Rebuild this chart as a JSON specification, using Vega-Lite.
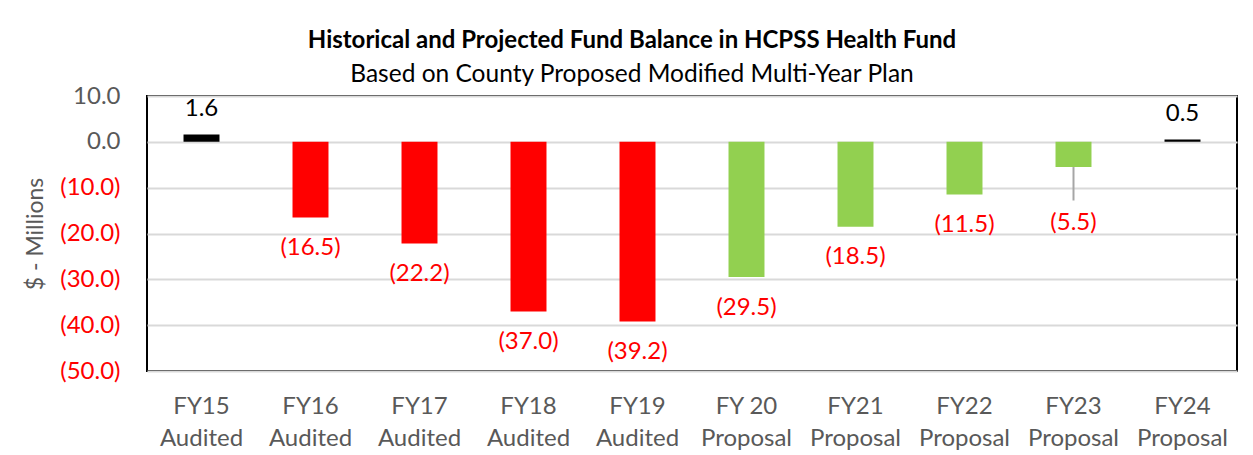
{
  "$schema": "https://vega.github.io/schema/vega-lite/v6.json",
  "autosize": {"type": "none"},
  "width": 1090,
  "height": 275,
  "padding": {"left": 147, "top": 96, "right": 16, "bottom": 84},
  "background": "white",
  "config": {
    "font": "Lato",
    "view": {"stroke": "black", "strokeWidth": 2},
    "axis": {"labelFont": "Lato", "titleFont": "Lato"}
  },
  "title": {
    "text": "Historical and Projected Fund Balance in HCPSS Health Fund",
    "subtitle": "Based on County Proposed Modified Multi-Year Plan",
    "fontSize": 24,
    "fontWeight": "bold",
    "color": "black",
    "subtitleFontSize": 24.5,
    "subtitleColor": "black",
    "subtitlePadding": 10,
    "offset": -2,
    "anchor": "middle",
    "dx": -60
  },
  "data": {
    "values": [
      {"cat": "FY15|Audited", "value": 1.6, "type": "pos"},
      {"cat": "FY16|Audited", "value": -16.5, "type": "hist"},
      {"cat": "FY17|Audited", "value": -22.2, "type": "hist"},
      {"cat": "FY18|Audited", "value": -37.0, "type": "hist"},
      {"cat": "FY19|Audited", "value": -39.2, "type": "hist"},
      {"cat": "FY 20|Proposal", "value": -29.5, "type": "proj"},
      {"cat": "FY21|Proposal", "value": -18.5, "type": "proj"},
      {"cat": "FY22|Proposal", "value": -11.5, "type": "proj"},
      {"cat": "FY23|Proposal", "value": -5.5, "type": "proj"},
      {"cat": "FY24|Proposal", "value": 0.5, "type": "pos"}
    ]
  },
  "encoding": {
    "x": {
      "field": "cat",
      "type": "nominal",
      "sort": null,
      "scale": {"paddingInner": 0.67, "paddingOuter": 0.335},
      "axis": {
        "title": null,
        "labelAngle": 0,
        "labelExpr": "split(datum.value, '|')",
        "labelFontSize": 24,
        "labelColor": "#595959",
        "labelLineHeight": 32,
        "labelPadding": 23,
        "ticks": false,
        "domain": false
      }
    },
    "y": {
      "field": "value",
      "type": "quantitative",
      "scale": {"domain": [-50, 10], "nice": false},
      "axis": {
        "title": "$ - Millions",
        "titleFontSize": 23,
        "titleFontWeight": "normal",
        "titleColor": "#595959",
        "titlePadding": 12,
        "values": [10, 0, -10, -20, -30, -40, -50],
        "labelExpr": "datum.value < 0 ? '(' + format(-datum.value, '.1f') + ')' : format(datum.value, '.1f')",
        "labelColor": {"condition": {"test": "datum.value < 0", "value": "#ff0000"}, "value": "#595959"},
        "labelFontSize": 24,
        "labelPadding": 27,
        "ticks": false,
        "domain": false,
        "gridColor": "#d9d9d9",
        "gridWidth": 2
      }
    }
  },
  "layer": [
    {
      "mark": {"type": "bar"},
      "encoding": {
        "color": {
          "field": "type",
          "type": "nominal",
          "scale": {"domain": ["pos", "hist", "proj"], "range": ["#000000", "#ff0000", "#92d050"]},
          "legend": null
        }
      }
    },
    {
      "transform": [{"filter": "datum.cat == 'FY23|Proposal'"}],
      "mark": {"type": "rule", "color": "#a6a6a6", "strokeWidth": 2},
      "encoding": {"y2": {"datum": -12.8}}
    },
    {
      "transform": [{"filter": "datum.value > 0"}],
      "mark": {"type": "text", "fontSize": 24, "baseline": "alphabetic", "dy": -19, "color": "black"},
      "encoding": {"text": {"field": "value", "type": "quantitative", "format": ".1f"}}
    },
    {
      "transform": [
        {"filter": "datum.value < 0 && datum.cat != 'FY23|Proposal'"},
        {"calculate": "'(' + format(-datum.value, '.1f') + ')'", "as": "lbl"}
      ],
      "mark": {"type": "text", "fontSize": 24, "baseline": "alphabetic", "dy": 37.5, "color": "#ff0000"},
      "encoding": {"text": {"field": "lbl", "type": "nominal"}}
    },
    {
      "transform": [
        {"filter": "datum.cat == 'FY23|Proposal'"},
        {"calculate": "'(' + format(-datum.value, '.1f') + ')'", "as": "lbl"}
      ],
      "mark": {"type": "text", "fontSize": 24, "baseline": "alphabetic", "dy": 63, "color": "#ff0000"},
      "encoding": {"text": {"field": "lbl", "type": "nominal"}}
    }
  ]
}
